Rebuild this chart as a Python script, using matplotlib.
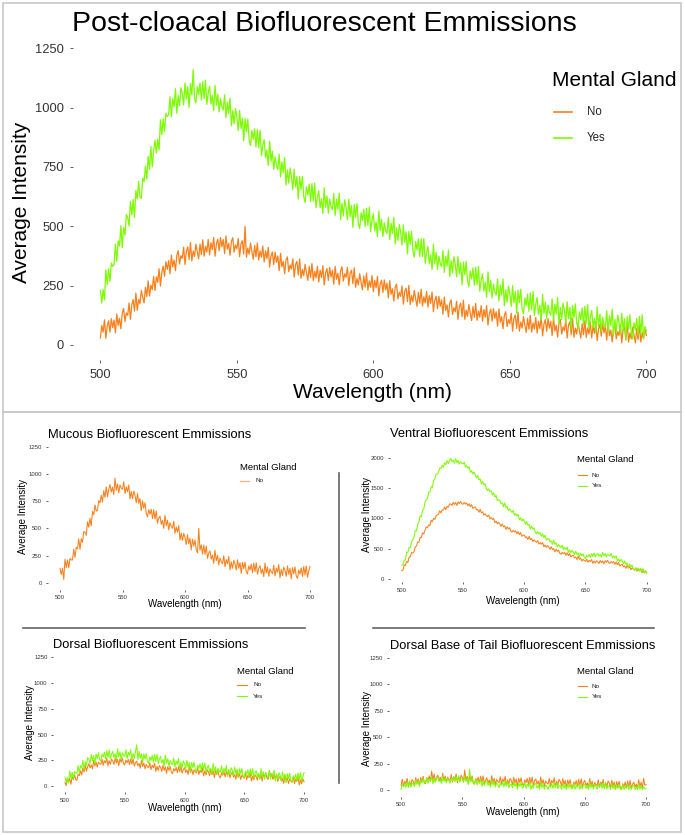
import matplotlib

matplotlib.use("Agg")
import matplotlib.pyplot as plt
import numpy as np
from matplotlib.lines import Line2D
from matplotlib.patches import Rectangle

plt.rcParams["font.family"] = ["Liberation Sans", "DejaVu Sans"]

W, H = 685, 835
ORANGE = "#F8801A"
GREEN = "#7CFC00"

# Post-cloacal spectrum at 0.5 nm steps
main_wavelength = np.arange(500, 700.5, 0.5)
main_no = [
    30, 82, 54, 106, 28, 80, 102, 54, 111, 73,
    105, 51, 131, 82, 112, 68, 133, 154, 99, 135,
    125, 177, 108, 170, 191, 143, 219, 146, 192, 174,
    230, 201, 177, 243, 204, 270, 206, 252, 233, 289,
    230, 287, 264, 321, 248, 305, 332, 289, 351, 318,
    355, 300, 379, 329, 358, 313, 377, 397, 341, 376,
    365, 412, 339, 396, 413, 360, 432, 354, 396, 373,
    425, 392, 363, 425, 381, 443, 374, 416, 392, 444,
    380, 431, 402, 453, 374, 425, 446, 397, 453, 414,
    445, 385, 459, 404, 428, 378, 437, 452, 391, 421,
    405, 449, 372, 426, 439, 383, 500, 370, 408, 382,
    430, 393, 361, 419, 372, 430, 358, 396, 369, 417,
    350, 397, 364, 411, 328, 375, 392, 339, 391, 348,
    375, 313, 386, 329, 352, 300, 358, 371, 309, 337,
    320, 363, 286, 339, 352, 295, 363, 281, 319, 292,
    340, 304, 272, 331, 284, 343, 271, 310, 283, 332,
    265, 315, 284, 334, 253, 303, 322, 272, 326, 286,
    315, 256, 331, 277, 302, 253, 313, 329, 269, 300,
    285, 328, 250, 303, 315, 258, 325, 243, 280, 253,
    300, 264, 232, 291, 244, 303, 231, 270, 243, 292,
    225, 273, 241, 289, 207, 255, 273, 221, 274, 232,
    260, 198, 271, 214, 237, 185, 243, 256, 194, 222,
    205, 249, 172, 226, 239, 183, 251, 170, 208, 182,
    230, 194, 163, 222, 176, 235, 164, 203, 177, 226,
    160, 208, 175, 223, 140, 188, 205, 153, 205, 163,
    190, 129, 202, 146, 169, 118, 176, 190, 128, 157,
    140, 184, 108, 162, 176, 120, 189, 108, 147, 121,
    170, 134, 103, 162, 116, 175, 104, 143, 117, 166,
    100, 149, 117, 166, 84, 133, 151, 100, 153, 112,
    140, 79, 152, 96, 119, 68, 126, 140, 78, 107,
    90, 134, 58, 112, 126, 70, 139, 58, 97, 71,
    120, 84, 53, 112, 66, 125, 54, 93, 67, 116,
    50, 100, 69, 119, 38, 88, 107, 57, 111, 71,
    100, 40, 114, 59, 83, 33, 92, 107, 46, 76,
    60, 105, 29, 84, 98, 43, 112, 32, 71, 46,
    95, 60, 29, 89, 43, 103, 32, 72, 46, 96,
    30, 80, 49, 99, 18, 68, 87, 37, 91, 51,
    80, 20, 94, 39, 63, 13, 72, 87, 26, 56,
    40, 85, 9, 64, 78, 23, 92, 12, 51, 26,
    75, 40, 9, 69, 23, 83, 12, 52, 26, 76,
    40,
]
main_yes = [
    230, 177, 234, 190, 317, 254, 321, 268, 345, 331,
    338, 425, 352, 439, 416, 503, 410, 496, 463, 550,
    537, 501, 605, 549, 613, 537, 651, 615, 689, 623,
    617, 703, 688, 754, 699, 795, 740, 836, 751, 817,
    862, 809, 866, 822, 949, 886, 953, 900, 976, 963,
    970, 1046, 962, 1038, 1004, 1080, 976, 1052, 1008, 1084,
    1060, 1012, 1104, 1036, 1088, 1000, 1102, 1054, 1160, 1038,
    1020, 1088, 1056, 1104, 1032, 1110, 1038, 1116, 1014, 1062,
    1090, 1016, 1052, 988, 1094, 1010, 1056, 982, 1038, 1004,
    990, 1054, 958, 1022, 976, 1040, 924, 988, 932, 996,
    960, 904, 988, 912, 956, 860, 954, 898, 952, 866,
    840, 904, 867, 911, 834, 908, 831, 905, 798, 842,
    865, 789, 822, 756, 859, 773, 816, 740, 793, 757,
    740, 804, 708, 772, 726, 790, 674, 738, 682, 746,
    710, 655, 740, 665, 710, 615, 710, 655, 710, 625,
    600, 666, 632, 678, 604, 680, 606, 682, 578, 624,
    650, 578, 616, 554, 662, 580, 628, 556, 614, 582,
    570, 638, 546, 614, 572, 640, 528, 596, 544, 612,
    580, 527, 614, 541, 588, 495, 592, 539, 596, 513,
    490, 557, 525, 572, 499, 577, 504, 581, 478, 526,
    553, 481, 518, 456, 564, 482, 529, 457, 515, 482,
    470, 538, 445, 513, 470, 538, 425, 493, 440, 508,
    475, 421, 506, 432, 477, 383, 478, 424, 479, 395,
    370, 436, 401, 447, 372, 448, 373, 449, 344, 390,
    415, 343, 380, 318, 425, 343, 390, 318, 375, 343,
    330, 398, 306, 374, 332, 400, 288, 356, 304, 372,
    340, 287, 373, 300, 346, 253, 349, 296, 352, 269,
    245, 312, 278, 325, 251, 328, 254, 331, 227, 274,
    300, 227, 264, 201, 308, 225, 272, 199, 256, 223,
    210, 278, 185, 253, 210, 278, 165, 233, 180, 248,
    215, 163, 250, 178, 225, 133, 230, 178, 235, 153,
    130, 198, 166, 214, 142, 220, 148, 226, 124, 172,
    200, 129, 167, 106, 214, 133, 181, 110, 168, 137,
    125, 194, 103, 172, 131, 200, 89, 158, 107, 176,
    145, 94, 182, 111, 159, 68, 166, 115, 173, 92,
    70, 139, 107, 156, 84, 163, 91, 170, 68, 117,
    145, 74, 113, 52, 161, 80, 129, 58, 117, 86,
    75, 144, 53, 122, 81, 150, 39, 108, 57, 126,
    95, 44, 133, 62, 111, 20, 119, 68, 127, 46,
    25, 94, 63, 112, 41, 120, 49, 128, 27, 76,
    60,
]

# Smaller panels, read at 1 nm steps
small_wavelength = np.arange(500, 701)
mucous_no = [
    132, 76, 132, 30, 216, 139, 209, 139, 223, 209,
    209, 308, 232, 324, 311, 403, 306, 405, 371, 470,
    464, 435, 560, 510, 593, 522, 654, 625, 715, 658,
    664, 755, 734, 804, 741, 846, 783, 881, 790, 860,
    902, 834, 878, 810, 960, 849, 907, 825, 897, 871,
    859, 927, 820, 881, 837, 898, 770, 838, 773, 841,
    804, 735, 820, 730, 773, 662, 754, 685, 735, 638,
    604, 672, 628, 675, 589, 671, 585, 660, 546, 593,
    612, 537, 574, 499, 620, 524, 575, 486, 551, 518,
    499, 564, 454, 512, 465, 523, 392, 457, 389, 454,
    414, 351, 442, 358, 407, 302, 400, 337, 393, 302,
    274, 500, 300, 348, 263, 346, 261, 337, 224, 272,
    292, 217, 253, 178, 298, 202, 252, 163, 227, 194,
    174, 248, 146, 213, 174, 241, 118, 192, 132, 206,
    174, 116, 211, 132, 185, 85, 187, 129, 189, 103,
    79, 154, 117, 171, 92, 181, 102, 184, 77, 131,
    157, 86, 127, 56, 181, 89, 144, 59, 128, 99,
    84, 161, 62, 132, 96, 166, 46, 123, 66, 143,
    114, 58, 155, 78, 133, 35, 139, 83, 145, 61,
    39, 116, 80, 136, 58, 149, 71, 155, 49, 105,
    150,
]
ventral_no = [
    137, 144, 228, 224, 288, 273, 361, 368, 435, 427,
    452, 527, 544, 608, 604, 686, 682, 761, 743, 807,
    856, 846, 891, 881, 968, 947, 1000, 982, 1042, 1052,
    1069, 1123, 1089, 1139, 1136, 1187, 1142, 1196, 1182, 1236,
    1237, 1212, 1264, 1228, 1260, 1213, 1269, 1244, 1279, 1239,
    1232, 1262, 1234, 1253, 1204, 1241, 1192, 1226, 1163, 1182,
    1186, 1139, 1147, 1100, 1150, 1092, 1108, 1053, 1076, 1049,
    1029, 1054, 991, 1012, 980, 1002, 928, 953, 910, 935,
    907, 869, 908, 859, 878, 818, 861, 823, 845, 792,
    772, 802, 774, 793, 744, 781, 732, 766, 703, 722,
    726, 682, 694, 650, 704, 649, 669, 617, 644, 620,
    604, 634, 575, 601, 573, 600, 530, 560, 521, 551,
    527, 491, 531, 484, 504, 446, 490, 454, 477, 426,
    407, 440, 415, 437, 391, 431, 385, 422, 362, 384,
    391, 349, 363, 321, 377, 324, 346, 296, 325, 303,
    289, 326, 274, 307, 286, 320, 257, 294, 262, 299,
    282, 255, 305, 267, 297, 248, 302, 275, 308, 266,
    257, 290, 265, 287, 241, 281, 235, 272, 212, 234,
    241, 200, 215, 174, 231, 179, 202, 153, 183, 162,
    149, 183, 129, 159, 136, 167, 102, 136, 102, 136,
    100,
]
ventral_yes = [
    227, 232, 309, 314, 445, 436, 523, 518, 614, 645,
    686, 796, 793, 898, 935, 1041, 1024, 1134, 1157, 1267,
    1309, 1323, 1436, 1436, 1523, 1509, 1627, 1641, 1732, 1727,
    1764, 1830, 1823, 1875, 1841, 1916, 1882, 1953, 1901, 1953,
    1987, 1937, 1959, 1909, 1985, 1921, 1953, 1893, 1934, 1910,
    1896, 1926, 1844, 1869, 1827, 1853, 1757, 1787, 1731, 1761,
    1724, 1666, 1707, 1635, 1650, 1564, 1610, 1552, 1571, 1494,
    1459, 1487, 1442, 1456, 1384, 1421, 1349, 1382, 1292, 1306,
    1302, 1241, 1251, 1190, 1254, 1179, 1199, 1128, 1157, 1122,
    1096, 1130, 1050, 1079, 1039, 1069, 975, 1009, 955, 989,
    954, 902, 948, 882, 902, 822, 873, 821, 845, 774,
    744, 780, 743, 765, 701, 746, 682, 723, 641, 663,
    667, 611, 627, 571, 641, 571, 597, 531, 566, 536,
    516, 557, 484, 520, 487, 524, 437, 478, 431, 472,
    444, 402, 458, 402, 432, 362, 423, 381, 415, 354,
    334, 387, 366, 405, 357, 419, 371, 429, 363, 402,
    422, 377, 404, 359, 440, 381, 418, 363, 409, 390,
    381, 420, 346, 380, 346, 381, 293, 332, 284, 323,
    294, 247, 299, 238, 264, 189, 246, 199, 229, 163,
    139, 183, 153, 183, 126, 179, 122, 171, 96, 126,
    100,
]
dorsal_no = [
    34, 5, 74, 31, 74, 17, 91, 62, 109, 61,
    54, 114, 101, 147, 107, 176, 136, 201, 143, 189,
    217, 176, 206, 165, 249, 194, 234, 183, 232, 217,
    211, 262, 200, 246, 224, 271, 195, 246, 210, 261,
    244, 209, 272, 223, 260, 197, 265, 230, 271, 217,
    204, 252, 226, 260, 207, 264, 211, 264, 193, 227,
    242, 195, 219, 172, 250, 189, 223, 166, 209, 188,
    176, 224, 159, 202, 177, 221, 142, 190, 151, 199,
    179, 142, 203, 152, 187, 122, 188, 151, 190, 134,
    119, 169, 145, 181, 130, 189, 138, 193, 124, 160,
    177, 131, 157, 111, 191, 131, 167, 111, 156, 136,
    126, 175, 111, 154, 130, 175, 97, 146, 107, 156,
    137, 100, 161, 110, 146, 81, 147, 110, 150, 93,
    79, 128, 104, 139, 88, 146, 95, 149, 80, 115,
    132, 86, 111, 65, 144, 84, 119, 63, 107, 87,
    76, 125, 61, 105, 81, 126, 48, 97, 59, 108,
    89, 55, 120, 72, 111, 49, 119, 85, 128, 75,
    64, 150, 84, 117, 63, 119, 65, 117, 45, 78,
    92, 46, 71, 25, 105, 45, 80, 24, 69, 48,
    38, 87, 23, 67, 43, 88, 10, 59, 21, 70,
    40,
]
dorsal_yes = [
    86, 35, 80, 29, 146, 77, 134, 71, 140, 125,
    122, 199, 126, 197, 178, 249, 158, 235, 198, 275,
    262, 218, 306, 244, 296, 216, 310, 266, 324, 256,
    242, 309, 280, 329, 264, 343, 278, 351, 262, 311,
    336, 276, 313, 253, 362, 284, 333, 261, 322, 298,
    287, 352, 267, 326, 295, 354, 251, 316, 267, 332,
    400, 256, 337, 268, 313, 226, 313, 262, 313, 238,
    217, 282, 250, 297, 229, 306, 238, 309, 217, 264,
    286, 224, 257, 195, 300, 220, 265, 191, 248, 222,
    207, 271, 185, 243, 211, 269, 165, 229, 179, 243,
    217, 167, 249, 181, 227, 141, 229, 179, 231, 157,
    137, 201, 169, 215, 147, 223, 155, 225, 133, 179,
    201, 140, 174, 113, 219, 140, 186, 113, 171, 146,
    132, 197, 112, 171, 140, 199, 96, 161, 112, 177,
    152, 103, 185, 118, 164, 79, 167, 118, 170, 97,
    77, 142, 110, 157, 90, 166, 99, 170, 78, 125,
    148, 87, 123, 62, 169, 91, 138, 65, 125, 100,
    87, 152, 66, 125, 93, 152, 48, 113, 63, 128,
    102, 53, 136, 69, 116, 31, 120, 71, 124, 51,
    32, 98, 67, 115, 48, 126, 59, 131, 40, 88,
    130,
]
tail_no = [
    45, 101, 32, 83, 59, 110, 26, 82, 43, 99,
    80, 43, 116, 64, 107, 40, 118, 81, 129, 72,
    60, 116, 92, 133, 79, 180, 91, 152, 78, 119,
    140, 90, 119, 69, 158, 93, 132, 72, 121, 101,
    90, 146, 76, 127, 102, 153, 68, 124, 84, 140,
    120, 79, 190, 91, 129, 58, 131, 90, 133, 72,
    55, 109, 83, 122, 66, 130, 74, 133, 57, 96,
    115, 65, 95, 45, 135, 70, 110, 50, 100, 80,
    70, 125, 54, 104, 78, 128, 42, 97, 56, 111,
    90, 50, 120, 65, 105, 35, 110, 70, 115, 55,
    40, 95, 69, 109, 53, 118, 62, 122, 46, 86,
    105, 55, 84, 34, 123, 58, 97, 37, 86, 66,
    55, 110, 40, 90, 65, 115, 30, 85, 45, 100,
    80, 39, 108, 52, 91, 20, 94, 53, 97, 36,
    20, 75, 50, 90, 35, 100, 45, 105, 30, 70,
    90, 40, 69, 19, 108, 43, 82, 22, 71, 51,
    40, 95, 25, 75, 50, 100, 15, 70, 30, 85,
    65, 24, 93, 37, 76, 5, 79, 38, 82, 21,
    5, 60, 35, 75, 20, 85, 30, 90, 15, 55,
    75, 26, 56, 7, 97, 33, 73, 14, 110, 45,
    50,
]
tail_yes = [
    5, 49, 31, 65, 23, 77, 35, 85, 27, 61,
    63, 34, 93, 52, 87, 34, 97, 68, 107, 62,
    73, 118, 63, 104, 85, 126, 59, 104, 73, 118,
    119, 79, 103, 63, 135, 83, 115, 67, 107, 91,
    63, 108, 88, 121, 77, 130, 86, 135, 75, 108,
    108, 74, 127, 81, 110, 52, 195, 75, 108, 58,
    63, 106, 48, 87, 65, 104, 34, 77, 43, 86,
    84, 44, 67, 27, 98, 46, 77, 29, 68, 52,
    23, 66, 45, 76, 31, 82, 37, 84, 23, 54,
    53, 21, 76, 32, 63, 7, 66, 34, 69, 21,
    28, 72, 15, 55, 34, 74, 5, 49, 16, 60,
    59, 19, 43, 5, 75, 23, 55, 7, 47, 31,
    5, 47, 27, 59, 15, 67, 23, 71, 11, 43,
    38, 6, 62, 18, 50, 5, 54, 22, 58, 10,
    18, 62, 6, 46, 26, 66, 5, 42, 10, 54,
    54, 15, 40, 5, 74, 23, 56, 9, 50, 35,
    8, 51, 30, 61, 16, 67, 22, 69, 8, 39,
    38, 5, 60, 15, 46, 5, 48, 15, 50, 5,
    8, 52, 5, 36, 16, 56, 5, 32, 5, 44,
    44, 5, 28, 5, 59, 7, 38, 5, 31, 11,
    10,
]

fig = plt.figure(figsize=(W / 100, H / 100), dpi=100)


def fx(x):
    return x / W


def fy(y):
    return 1 - y / H


def add_panel(left, top, right, bottom, ylim, yticks, series, lw, tick_size, tick_len, pad):
    # pixel box of the plotting area, bare axes with only ticks (ggplot look)
    ax = fig.add_axes([fx(left), fy(bottom), (right - left) / W, (bottom - top) / H])
    for x, yvals, color in series:
        ax.plot(x, yvals, color=color, lw=lw)
    ax.set_xlim(490, 710)
    ax.set_ylim(*ylim)
    ax.set_xticks([500, 550, 600, 650, 700])
    ax.set_yticks(yticks)
    for spine in ax.spines.values():
        spine.set_visible(False)
    ax.tick_params(length=tick_len, width=0.6, color="#444444", labelcolor="#333333",
                   labelsize=tick_size, pad=pad)
    ax.patch.set_alpha(0)
    return ax


def draw_legend(tx, ty, title_size, entries, lx0, lx1, text_x, label_size, lw):
    fig.text(fx(tx), fy(ty), "Mental Gland", fontsize=title_size, ha="left", va="center")
    for label, color, y in entries:
        fig.add_artist(Line2D([fx(lx0), fx(lx1)], [fy(y), fy(y)], color=color, lw=lw))
        fig.text(fx(text_x), fy(y), label, fontsize=label_size, ha="left", va="center",
                 color="#222222")


def labels(title, title_xy, title_size, xlab_xy, ylab_xy, lab_size, ylab_size):
    fig.text(fx(title_xy[0]), fy(title_xy[1]), title, fontsize=title_size, ha="left", va="center")
    fig.text(fx(xlab_xy[0]), fy(xlab_xy[1]), "Wavelength (nm)", fontsize=lab_size,
             ha="center", va="center")
    fig.text(fx(ylab_xy[0]), fy(ylab_xy[1]), "Average Intensity", fontsize=ylab_size,
             ha="center", va="center", rotation=90)


ticks_1250 = [0, 250, 500, 750, 1000, 1250]
mw, sw = main_wavelength, small_wavelength

# big top panel
add_panel(73.1, 33.5, 673.6, 359.8, (-62.5, 1312.5), ticks_1250,
          [(mw, main_no, ORANGE), (mw, main_yes, GREEN)], 0.9, 9.3, 2.5, 4)
labels("Post-cloacal Biofluorescent Emmissions", (72, 24), 20.5, (372, 393), (22, 202), 15, 15)
draw_legend(552, 81, 15, [("No", ORANGE, 112), ("Yes", GREEN, 138)], 554, 572, 587, 8.3, 1.2)

# four small panels
add_panel(47.5, 439.9, 322.5, 589.5, (-62.5, 1312.5), ticks_1250,
          [(sw, mucous_no, ORANGE)], 0.75, 4.3, 1.5, 2.5)
labels("Mucous Biofluorescent Emmissions", (48, 435), 9.3, (185, 604), (23, 517), 7, 7)
draw_legend(240, 467, 6.8, [("No", "#F7B27A", 481)], 240, 249, 255, 4.6, 0.9)

add_panel(389.5, 449.8, 659.0, 582.0, (-50, 2130), [0, 500, 1000, 1500, 2000],
          [(sw, ventral_no, ORANGE), (sw, ventral_yes, GREEN)], 0.75, 4.3, 1.5, 2.5)
labels("Ventral Biofluorescent Emmissions", (390, 434), 9.3, (523, 601), (367, 515), 7, 7)
draw_legend(577, 460, 6.8, [("No", ORANGE, 475), ("Yes", GREEN, 486)], 578, 587, 592, 4.6, 0.8)

add_panel(53.0, 650.9, 316.0, 792.4, (-62.5, 1312.5), ticks_1250,
          [(sw, dorsal_no, ORANGE), (sw, dorsal_yes, GREEN)], 0.75, 4.3, 1.5, 2.5)
labels("Dorsal Biofluorescent Emmissions", (53, 645), 9.3, (185, 808), (30, 723), 7, 7)
draw_legend(237, 671, 6.8, [("No", ORANGE, 685), ("Yes", GREEN, 696)], 237, 247, 253, 4.6, 0.8)

add_panel(388.8, 651.1, 658.3, 796.6, (-62.5, 1312.5), ticks_1250,
          [(sw, tail_no, ORANGE), (sw, tail_yes, GREEN)], 0.75, 4.3, 1.5, 2.5)
labels("Dorsal Base of Tail Biofluorescent Emmissions", (390, 646), 9.3, (523, 812), (367, 728), 7, 7)
draw_legend(577, 672, 6.8, [("No", ORANGE, 686), ("Yes", GREEN, 697)], 578, 587, 592, 4.6, 0.8)

# frames around the two image blocks and the separators between small panels
for top, bottom in [(3, 412), (412, 832)]:
    fig.add_artist(Rectangle((fx(3), fy(bottom)), (681 - 3) / W, (bottom - top) / H,
                             transform=fig.transFigure, fill=False, ec="#C8C8C8", lw=1.2))
fig.add_artist(Line2D([fx(339), fx(339)], [fy(473), fy(783)], color="#555555", lw=1.1))
fig.add_artist(Line2D([fx(23), fx(305)], [fy(628), fy(628)], color="#555555", lw=1.1))
fig.add_artist(Line2D([fx(373), fx(654)], [fy(628), fy(628)], color="#555555", lw=1.1))

fig.savefig("out.png", dpi=100)
